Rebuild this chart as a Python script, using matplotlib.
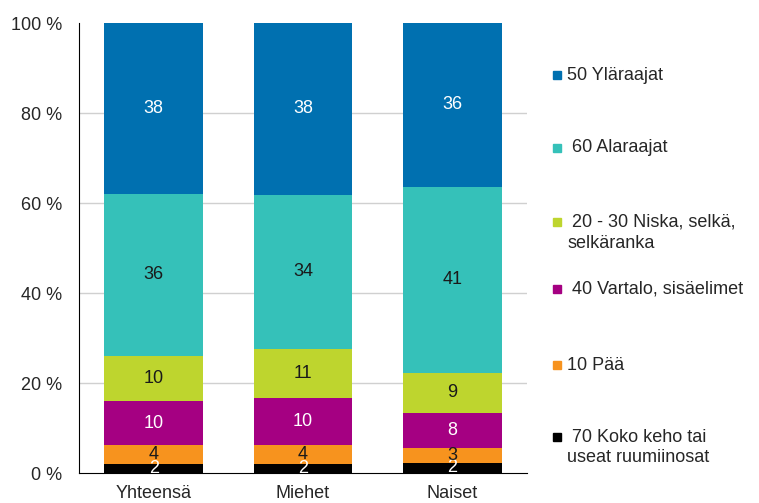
import numpy as np
import matplotlib.pyplot as plt
from matplotlib.patches import Rectangle

plt.rcParams['font.family'] = ['Liberation Sans', 'DejaVu Sans']

kategoriat = ['Yhteensä', 'Miehet', 'Naiset']

# osuudet (%) alhaalta ylös
koko_keho = [1.9, 1.9, 2.3]
paa = [4.3, 4.3, 3.2]
vartalo = [9.7, 10.4, 7.9]
niska = [10.2, 11.0, 8.8]
alaraajat = [36.0, 34.2, 41.4]
ylaraajat = [37.9, 38.2, 36.4]

sarjat = [koko_keho, paa, vartalo, niska, alaraajat, ylaraajat]
varit = ['#000000', '#f7931e', '#a50082', '#bed52e', '#35c1b9', '#0070b0']
tekstivarit = ['white', '#1a1a1a', 'white', '#1a1a1a', '#1a1a1a', 'white']

selitteet = ['50 Yläraajat', ' 60 Alaraajat', ' 20 - 30 Niska, selkä,\nselkäranka',
             ' 40 Vartalo, sisäelimet', '10 Pää', ' 70 Koko keho tai\nuseat ruumiinosat']
selite_varit = ['#0070b0', '#35c1b9', '#bed52e', '#a50082', '#f7931e', '#000000']
selite_y = [75, 148, 222, 289, 365, 437]

fig = plt.figure(figsize=(7.59, 5.03), dpi=100)
ax = fig.add_axes([79 / 759, 30 / 503, 448 / 759, 450 / 503])

index = np.arange(len(kategoriat))
pohja = np.zeros(len(kategoriat))
for arvot, vari, tv in zip(sarjat, varit, tekstivarit):
    arvot = np.array(arvot)
    ax.bar(index, arvot, bottom=pohja, width=0.66, color=vari, zorder=3)
    for i in range(len(index)):
        ax.text(index[i], pohja[i] + arvot[i] / 2, '%d' % round(arvot[i]),
                ha='center', va='center', color=tv, fontsize=13, zorder=4)
    pohja = pohja + arvot

ax.set_xlim(-0.5, 2.5)
ax.set_ylim(0, 100)
ax.set_yticks([0, 20, 40, 60, 80, 100])
ax.set_yticklabels(['0 %', '20 %', '40 %', '60 %', '80 %', '100 %'])
ax.set_xticks(index)
ax.set_xticklabels(kategoriat)
ax.tick_params(length=0, labelsize=13, labelcolor='#262626')
ax.tick_params(axis='y', pad=12)
ax.tick_params(axis='x', pad=9)
for g in [20, 40, 60, 80]:
    ax.axhline(g, color='#d0d0d0', linewidth=1, zorder=1)
ax.spines['top'].set_visible(False)
ax.spines['right'].set_visible(False)
ax.spines['left'].set_color('black')
ax.spines['bottom'].set_color('black')

# selite käsin
for teksti, vari, y in zip(selitteet, selite_varit, selite_y):
    yf = 1 - y / 503
    fig.patches.append(Rectangle((553 / 759, yf - 4 / 503), 8 / 759, 8 / 503,
                                 transform=fig.transFigure, color=vari))
    for j, rivi in enumerate(teksti.split('\n')):
        fig.text(567 / 759, yf - j * 21 / 503, rivi, ha='left', va='center',
                 fontsize=13, color='#262626')

plt.savefig('out.png', dpi=100)
